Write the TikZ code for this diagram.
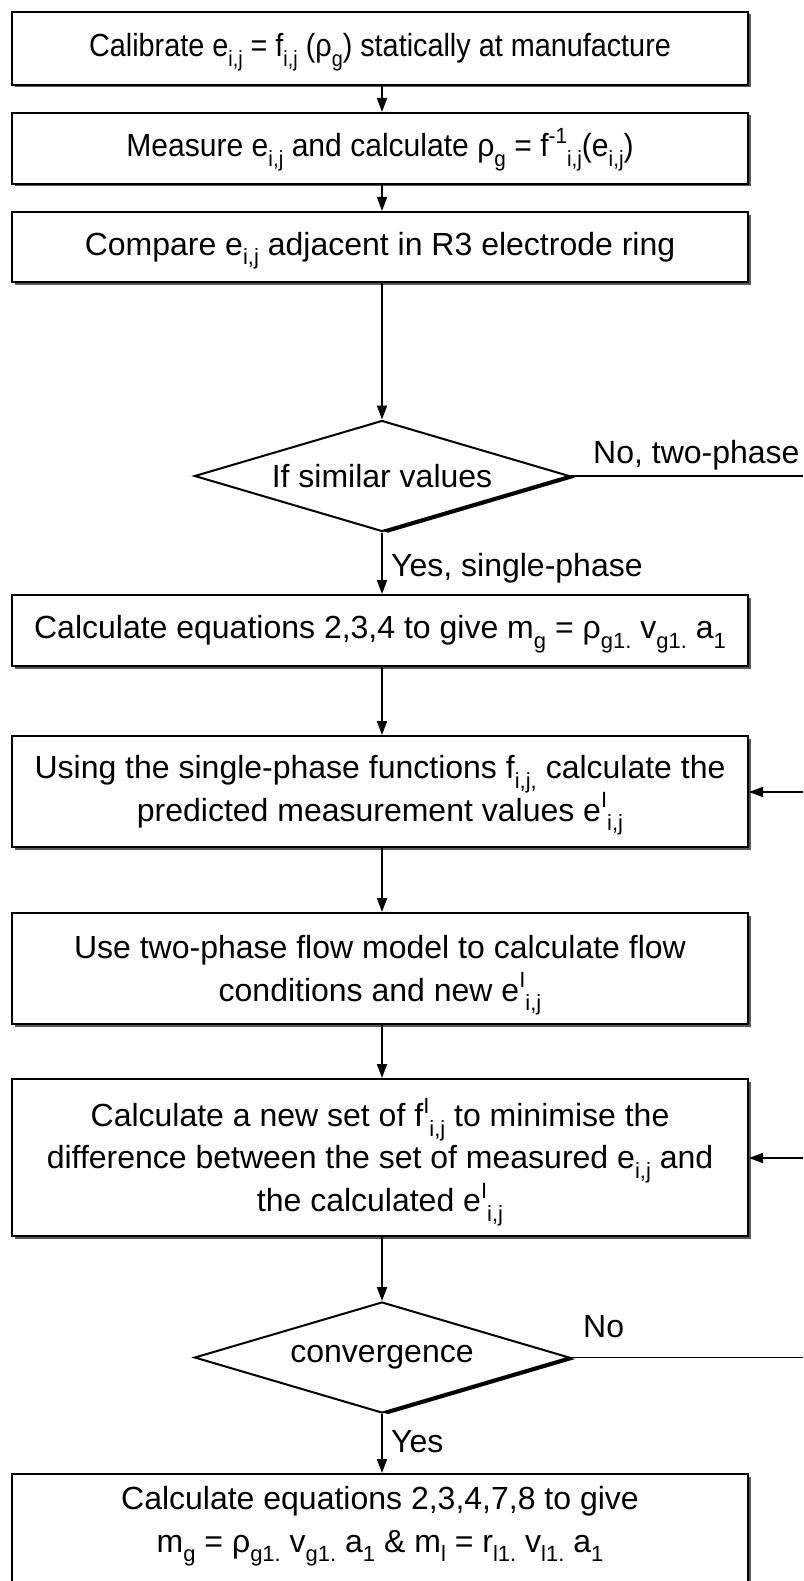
\documentclass[tikz,border=0pt]{standalone}
\usepackage{fontspec}
\setmainfont{Liberation Sans}
\newfontfamily\narrowA[FakeStretch=0.90]{Liberation Sans}
\newfontfamily\narrowB[FakeStretch=0.94]{Liberation Sans}
\usetikzlibrary{arrows.meta,shapes.geometric,shadows}
\newcommand{\subt}[1]{\raisebox{-0.30em}[0pt][0pt]{\fontsize{22}{22}\selectfont #1}}
\newcommand{\supt}[1]{\raisebox{0.42em}[0pt][0pt]{\fontsize{22}{22}\selectfont #1}}
\tikzset{
  box/.style={draw, line width=2pt, fill=white, minimum width=736pt, align=center,
    font=\fontsize{32}{42.5}\selectfont, inner sep=0pt,
    drop shadow={shadow xshift=2.5pt, shadow yshift=-2.5pt, fill=black!65, opacity=1}},
  dec/.style={diamond, draw, line width=2pt, fill=white, aspect=3.38, minimum width=375pt,
    minimum height=111pt, inner sep=0pt, font=\fontsize{32}{36}\selectfont,
    drop shadow={shadow xshift=6pt, shadow yshift=-1.5pt, fill=black, opacity=1}},
  conn/.style={line width=1.8pt},
  arr/.style={conn, -{Triangle[length=14pt,width=10pt]}},
  lbl/.style={font=\fontsize{32}{36}\selectfont, inner sep=0pt}
}
\begin{document}
\begin{tikzpicture}[x=1pt,y=-1pt]
\clip (0,0) rectangle (803,1581);
\fill[white] (0,0) rectangle (803,1581);

\node[box, minimum height=73pt] (b1) at (380,48.5)
  {\narrowA Calibrate e\subt{i,j} = f\subt{i,j} (ρ\subt{g}) statically at manufacture};
\node[box, minimum height=71pt] (b2) at (380,148.5)
  {\narrowB Measure e\subt{i,j} and calculate ρ\subt{g} = f\supt{-1}\subt{i,j}(e\subt{i,j})};
\node[box, minimum height=70pt] (b3) at (380,247)
  {Compare e\subt{i,j} adjacent in R3 electrode ring};
\node[dec] (d1) at (382,476) {If similar values};
\node[box, minimum height=71pt] (b4) at (380,630.5)
  {Calculate equations 2,3,4 to give m\subt{g} = ρ\subt{g1.} v\subt{g1.} a\subt{1}};
\node[box, minimum height=111pt] (b5) at (380,791.5)
  {Using the single-phase functions f\subt{i,j,} calculate the\\predicted measurement values e\supt{I}\subt{i,j}};
\node[box, minimum height=111pt] (b6) at (380,968.5)
  {Use two-phase flow model to calculate flow\\conditions and new e\supt{I}\subt{i,j}};
\node[box, minimum height=157pt] (b7) at (380,1157.5)
  {Calculate a new set of f\supt{I}\subt{i,j} to minimise the\\difference between the set of measured e\subt{i,j} and\\the calculated e\supt{I}\subt{i,j}};
\node[dec] (d2) at (382,1357.5) {convergence};
\node[box, minimum height=150pt, anchor=north] (b8) at (380,1473) {};
\node[align=center, font=\fontsize{32}{43}\selectfont, inner sep=0pt] (b8t) at (380,1522.5)
  {Calculate equations 2,3,4,7,8 to give\\m\subt{g} = ρ\subt{g1.} v\subt{g1.} a\subt{1} \& m\subt{l} = r\subt{l1.} v\subt{l1.} a\subt{1}};

\coordinate (r1) at (803,476);
\coordinate (r2) at (803,792);
\coordinate (r3) at (803,1158);
\coordinate (r4) at (803,1357.5);

\draw[arr] (b1.south -| d1) -- (b2.north -| d1);
\draw[arr] (b2.south -| d1) -- (b3.north -| d1);
\draw[arr] (b3.south -| d1) -- (d1.north);
\draw[arr] (d1.south) -- (b4.north -| d1);
\draw[arr] (b4.south -| d1) -- (b5.north -| d1);
\draw[arr] (b5.south -| d1) -- (b6.north -| d1);
\draw[arr] (b6.south -| d1) -- (b7.north -| d1);
\draw[arr] (b7.south -| d1) -- (d2.north);
\draw[arr] (d2.south) -- (b8.north -| d2);

\draw[conn] (d1.east) -- (r1);
\draw[conn] (d2.east) -- (r4);
\draw[arr] (r2) -- (r2 -| b5.east);
\draw[arr] (r3) -- (r3 -| b7.east);

\node[lbl, anchor=west] (l1) at (593,455) {No, two-phase};
\node[lbl, anchor=west] (l2) at (391,568) {Yes, single-phase};
\node[lbl, anchor=west] (l3) at (583,1327) {No};
\node[lbl, anchor=west] (l4) at (391,1442) {Yes};
\end{tikzpicture}
\end{document}
